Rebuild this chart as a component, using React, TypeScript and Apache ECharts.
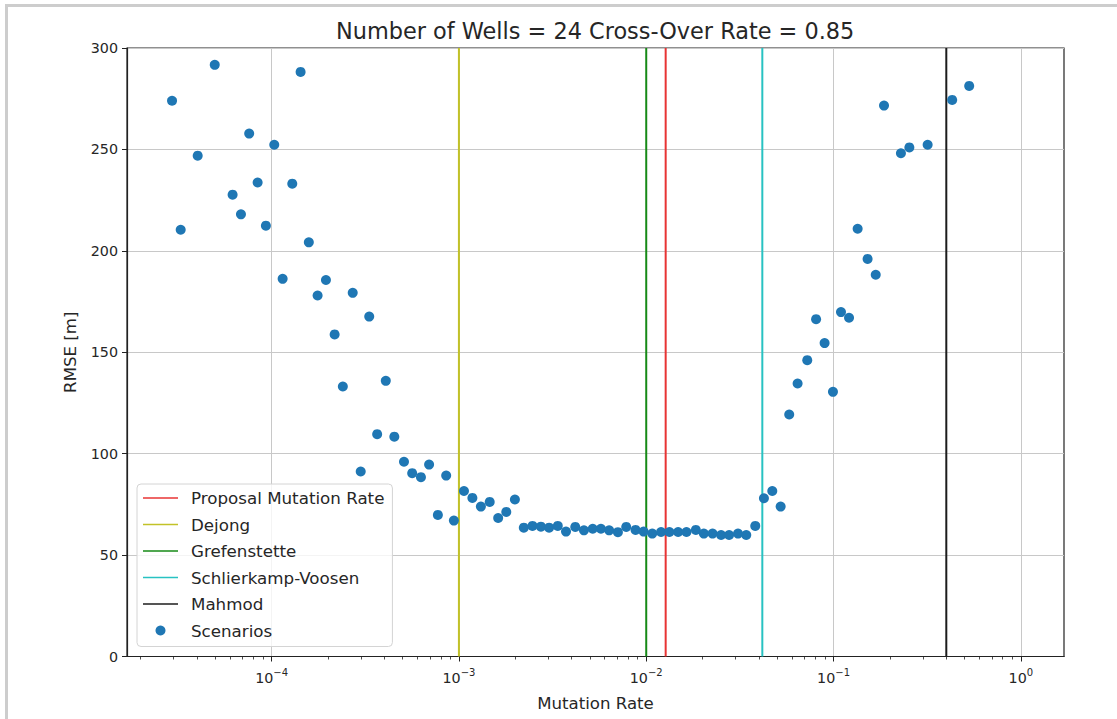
import React, { useEffect, useRef } from 'react';
import * as echarts from 'echarts';

// Scenario mutation rates (x) and their RMSE values (y)
const rates = [
  2.94e-5, 3.27e-5, 4.03e-5, 4.97e-5, 6.19e-5, 6.86e-5, 7.59e-5, 8.42e-5, 9.32e-5,
  1.033e-4, 1.145e-4, 1.289e-4, 1.428e-4, 1.58e-4, 1.76e-4, 1.95e-4, 2.17e-4, 2.4e-4,
  2.71e-4, 2.99e-4, 3.32e-4, 3.66e-4, 4.07e-4, 4.52e-4, 5.09e-4, 5.63e-4, 6.27e-4,
  6.93e-4, 7.72e-4, 8.55e-4, 9.4e-4,
  1.064e-3, 1.18e-3, 1.31e-3, 1.46e-3, 1.62e-3, 1.79e-3, 1.99e-3, 2.22e-3, 2.47e-3,
  2.74e-3, 3.03e-3, 3.37e-3, 3.73e-3, 4.18e-3, 4.65e-3, 5.18e-3, 5.73e-3, 6.34e-3,
  7.06e-3, 7.82e-3, 8.77e-3, 9.68e-3,
  1.077e-2, 1.2e-2, 1.33e-2, 1.48e-2, 1.64e-2, 1.84e-2, 2.03e-2, 2.26e-2, 2.51e-2,
  2.77e-2, 3.09e-2, 3.42e-2, 3.82e-2, 4.25e-2, 4.71e-2, 5.22e-2, 5.8e-2, 6.43e-2,
  7.24e-2, 8.07e-2, 8.96e-2, 9.93e-2,
  1.096e-1, 1.21e-1, 1.345e-1, 1.52e-1, 1.68e-1, 1.86e-1, 2.29e-1, 2.54e-1, 3.18e-1,
  4.3e-1, 5.3e-1,
];
const rmse = [
  274.0, 210.4, 246.9, 291.7, 227.7, 218.0, 257.8, 233.7, 212.4,
  252.3, 186.2, 233.1, 288.2, 204.2, 178.0, 185.6, 158.8, 133.1,
  179.3, 91.2, 167.6, 109.6, 135.9, 108.4, 96.0, 90.4, 88.4,
  94.6, 69.8, 89.2, 67.0,
  81.6, 78.2, 73.9, 76.2, 68.3, 71.3, 77.4, 63.5, 64.4,
  64.0, 63.5, 64.4, 61.6, 63.9, 62.2, 63.0, 63.0, 62.2,
  61.3, 63.9, 62.4, 61.6,
  60.6, 61.4, 61.4, 61.4, 61.4, 62.4, 60.6, 60.6, 59.9,
  59.9, 60.6, 59.9, 64.4, 78.0, 81.6, 73.9, 119.3, 134.6,
  146.1, 166.3, 154.5, 130.5,
  169.8, 167.0, 210.9, 196.0, 188.2, 271.6, 248.1, 251.0, 252.3,
  274.4, 281.3,
];

// Reference mutation rates (vertical lines)
const refNames = ['Proposal Mutation Rate', 'Dejong', 'Grefenstette', 'Schlierkamp-Voosen', 'Mahmod'];
const refRates = [0.0127, 0.001, 0.01, 1 / 24, 0.4];
const refColors = ['#e83434', '#c2c228', '#168a16', '#28c2c2', '#1c1c1c'];

// Axis ticks
const yTicks = [0, 50, 100, 150, 200, 250, 300];
const xMajorTicks = [1e-4, 1e-3, 1e-2, 1e-1, 1];
const minorMantissas = [2, 3, 4, 5, 6, 7, 8, 9];
const minorDecades = [1e-5, 1e-4, 1e-3, 1e-2, 1e-1];

const X_MIN = 1.69e-5;
const X_MAX = 1.7;
const Y_MIN = 0;
const Y_MAX = 300;

const FONT = "'DejaVu Sans', sans-serif";
const TXT = '#262626';
const LINE_ICON = 'path://M0,0L0,0M0,4.2L35,4.2L35,5.8L0,5.8ZM35,10L35,10';

export default function App() {
  const ref = useRef<HTMLDivElement>(null);

  useEffect(() => {
    if (!ref.current) return;
    const chart = echarts.init(ref.current, undefined, { renderer: 'svg' });

    const xMinorTicks: number[] = [];
    minorDecades.forEach((d) =>
      minorMantissas.forEach((m) => {
        const v = parseFloat((m * d).toPrecision(6));
        if (v >= X_MIN && v <= X_MAX) xMinorTicks.push(v);
      })
    );

    const expLabel = (val: number) => {
      const lg = Math.log10(val);
      const e = Math.round(lg);
      if (Math.abs(lg - e) > 1e-6) return '';
      return `{b|10}{s|${e < 0 ? '\u2212' : ''}${Math.abs(e)}}`;
    };

    const lineSeries = refNames.map((name, i) => ({
      name,
      type: 'line',
      data: [
        [refRates[i], Y_MIN],
        [refRates[i], Y_MAX],
      ],
      xAxisIndex: 0,
      yAxisIndex: 0,
      symbol: 'none',
      showSymbol: false,
      silent: true,
      color: refColors[i],
      itemStyle: { color: refColors[i] },
      lineStyle: { color: refColors[i], width: 2 },
      emphasis: { disabled: true },
      z: 3,
    }));

    chart.setOption({
      animation: false,
      backgroundColor: 'transparent',
      textStyle: { fontFamily: FONT },
      title: {
        text: 'Number of Wells = 24 Cross-Over Rate = 0.85',
        left: 336,
        top: 20,
        padding: 0,
        textStyle: { fontFamily: FONT, fontSize: 22.4, fontWeight: 'normal', color: TXT },
      },
      grid: {
        left: 127,
        top: 48,
        right: 53,
        bottom: 62.5,
        show: true,
        borderColor: '#222',
        borderWidth: 1.2,
        backgroundColor: 'transparent',
        containLabel: false,
      },
      legend: {
        orient: 'vertical',
        left: 137,
        top: 484,
        padding: [5, 8, 7, 6],
        itemWidth: 35,
        itemHeight: 10,
        itemGap: 8.5,
        backgroundColor: 'rgba(255,255,255,0.8)',
        borderColor: '#d4d4d4',
        borderWidth: 1,
        borderRadius: 4,
        selectedMode: false,
        data: [
          ...refNames.map((name, i) => ({ name, icon: LINE_ICON, itemStyle: { color: refColors[i] } })),
          { name: 'Scenarios', icon: 'circle', itemStyle: { color: '#1f77b4' } },
        ],
        formatter: (name: string) => `{p|${name}}`,
        textStyle: {
          fontFamily: FONT,
          fontSize: 16.7,
          color: TXT,
          lineHeight: 18,
          rich: { p: { fontFamily: FONT, fontSize: 16.7, color: TXT, lineHeight: 18, padding: [0, 0, 0, 8] } },
        },
      },
      xAxis: [
        {
          type: 'log',
          logBase: 10,
          min: X_MIN,
          max: X_MAX,
          position: 'bottom',
          name: 'Mutation Rate',
          nameLocation: 'middle',
          nameGap: 38,
          nameTextStyle: { fontFamily: FONT, fontSize: 16.6, color: TXT },
          axisLine: { show: true, lineStyle: { color: '#222', width: 1.2 } },
          axisTick: { show: true, length: 5, lineStyle: { color: '#222', width: 1 }, customValues: xMajorTicks },
          axisLabel: {
            customValues: xMajorTicks,
            margin: 11,
            formatter: expLabel,
            rich: {
              b: { fontFamily: FONT, fontSize: 14.3, color: TXT, lineHeight: 20 },
              s: { fontFamily: FONT, fontSize: 10, color: TXT, lineHeight: 10, verticalAlign: 'top' },
            },
          },
          splitLine: { show: true, lineStyle: { color: '#c8c8c8', width: 1 } },
        },
        {
          type: 'log',
          logBase: 10,
          min: X_MIN,
          max: X_MAX,
          position: 'bottom',
          axisLine: { show: false },
          axisTick: { show: true, length: 3, lineStyle: { color: '#222', width: 0.8 }, customValues: xMinorTicks },
          axisLabel: { show: false },
          splitLine: { show: false },
        },
      ],
      yAxis: {
        type: 'value',
        min: Y_MIN,
        max: Y_MAX,
        interval: 50,
        name: 'RMSE [m]',
        nameLocation: 'middle',
        nameGap: 48,
        nameTextStyle: { fontFamily: FONT, fontSize: 16.6, color: TXT },
        axisLine: { show: true, lineStyle: { color: '#222', width: 1.2 } },
        axisTick: { show: true, length: 5, lineStyle: { color: '#222', width: 1 }, customValues: yTicks },
        axisLabel: { customValues: yTicks, margin: 9, fontFamily: FONT, fontSize: 14.3, color: TXT },
        splitLine: { show: true, lineStyle: { color: '#c8c8c8', width: 1 } },
      },
      series: [
        ...lineSeries,
        {
          name: 'Scenarios',
          type: 'scatter',
          xAxisIndex: 0,
          yAxisIndex: 0,
          symbol: 'circle',
          symbolSize: 10,
          itemStyle: { color: '#1f77b4', opacity: 1 },
          data: rates.map((r, i) => [r, rmse[i]]),
          z: 4,
        },
      ],
    });

    return () => chart.dispose();
  }, []);

  return (
    <div style={{ position: 'absolute', left: 0, top: 0, width: 1117, height: 719, background: '#fff', overflow: 'hidden' }}>
      <div
        style={{
          position: 'absolute',
          left: 5,
          top: 4,
          right: 0,
          bottom: 0,
          borderLeft: '3px solid #cdcdcd',
          borderTop: '3px solid #cdcdcd',
        }}
      />
      <div ref={ref} style={{ position: 'absolute', left: 0, top: 0, width: 1117, height: 719 }} />
    </div>
  );
}
